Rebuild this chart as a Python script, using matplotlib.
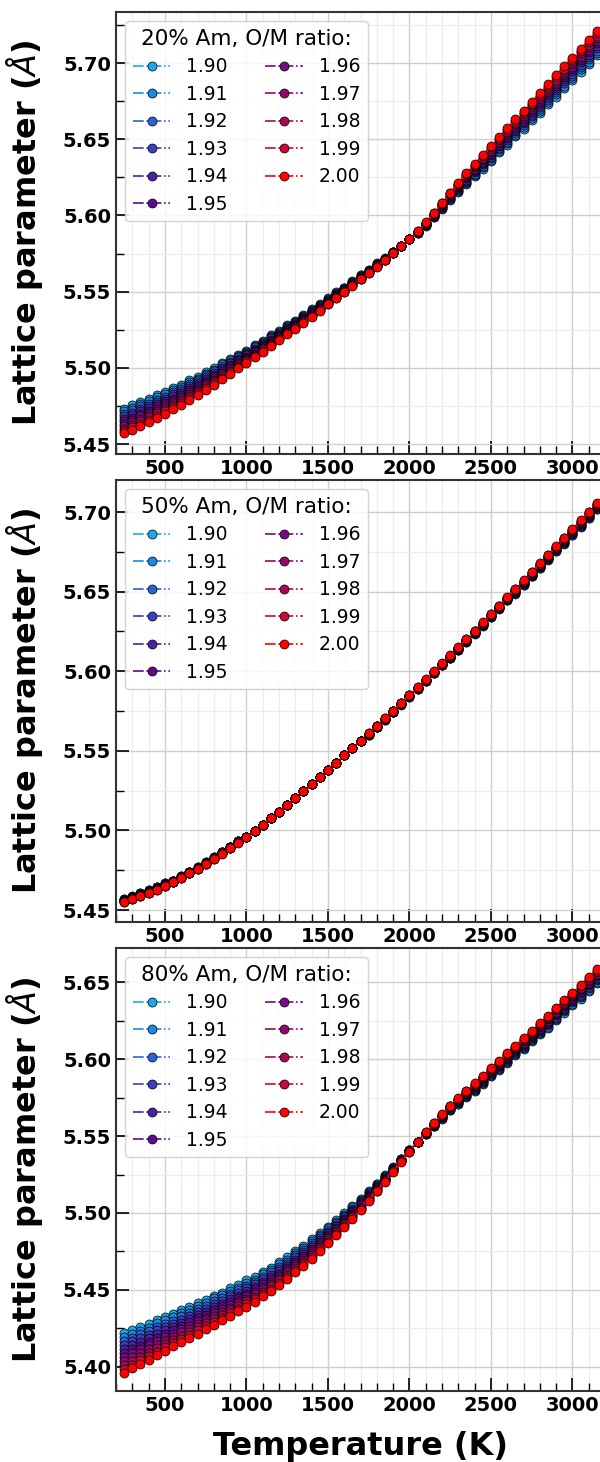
import matplotlib
matplotlib.use("Agg")
import matplotlib.pyplot as plt
from matplotlib.ticker import MultipleLocator, FormatStrFormatter

# ---------------- data ----------------
temps = [250, 300, 350, 400, 450, 500, 550, 600, 650, 700,
         750, 800, 850, 900, 950, 1000, 1050, 1100, 1150, 1200,
         1250, 1300, 1350, 1400, 1450, 1500, 1550, 1600, 1650, 1700,
         1750, 1800, 1850, 1900, 1950, 2000, 2050, 2100, 2150, 2200,
         2250, 2300, 2350, 2400, 2450, 2500, 2550, 2600, 2650, 2700,
         2750, 2800, 2850, 2900, 2950, 3000, 3050, 3100, 3150]
ratios = ["1.90", "1.91", "1.92", "1.93", "1.94", "1.95", "1.96", "1.97", "1.98", "1.99", "2.00"]
colors = ["#1aa7ec", "#1e88e5", "#2b63d4", "#3d3fbf", "#4b22a5", "#5c0a8e",
          "#760a83", "#8f0a6d", "#a80a55", "#c80a3a", "#ff0000"]

# ---- 20% Am ----
am20_190 = [5.4730, 5.4754, 5.4779, 5.4795, 5.4822, 5.4840, 5.4869, 5.4889, 5.4920, 5.4942,
            5.4975, 5.4999, 5.5034, 5.5060, 5.5087, 5.5114, 5.5150, 5.5177, 5.5214, 5.5242,
            5.5280, 5.5308, 5.5347, 5.5386, 5.5416, 5.5456, 5.5496, 5.5527, 5.5568, 5.5610,
            5.5642, 5.5685, 5.5718, 5.5762, 5.5797, 5.5844, 5.5886, 5.5934, 5.5988, 5.6044,
            5.6100, 5.6155, 5.6208, 5.6259, 5.6308, 5.6356, 5.6414, 5.6462, 5.6520, 5.6568,
            5.6626, 5.6674, 5.6732, 5.6780, 5.6838, 5.6886, 5.6944, 5.6992, 5.7050]
am20_191 = [5.4714, 5.4738, 5.4763, 5.4780, 5.4807, 5.4826, 5.4855, 5.4876, 5.4907, 5.4930,
            5.4963, 5.4988, 5.5023, 5.5050, 5.5078, 5.5106, 5.5142, 5.5170, 5.5207, 5.5236,
            5.5274, 5.5303, 5.5342, 5.5381, 5.5412, 5.5452, 5.5492, 5.5524, 5.5565, 5.5607,
            5.5640, 5.5683, 5.5717, 5.5761, 5.5797, 5.5844, 5.5887, 5.5936, 5.5991, 5.6048,
            5.6105, 5.6161, 5.6215, 5.6267, 5.6317, 5.6366, 5.6424, 5.6473, 5.6531, 5.6580,
            5.6638, 5.6687, 5.6745, 5.6794, 5.6852, 5.6901, 5.6959, 5.7008, 5.7066]
am20_192 = [5.4698, 5.4722, 5.4747, 5.4765, 5.4792, 5.4812, 5.4841, 5.4863, 5.4894, 5.4918,
            5.4951, 5.4977, 5.5012, 5.5040, 5.5069, 5.5098, 5.5134, 5.5163, 5.5200, 5.5230,
            5.5268, 5.5298, 5.5337, 5.5376, 5.5408, 5.5448, 5.5488, 5.5521, 5.5562, 5.5604,
            5.5638, 5.5681, 5.5716, 5.5760, 5.5797, 5.5844, 5.5888, 5.5938, 5.5994, 5.6052,
            5.6110, 5.6167, 5.6222, 5.6275, 5.6326, 5.6376, 5.6434, 5.6484, 5.6542, 5.6592,
            5.6650, 5.6700, 5.6758, 5.6808, 5.6866, 5.6916, 5.6974, 5.7024, 5.7082]
am20_193 = [5.4682, 5.4706, 5.4731, 5.4750, 5.4777, 5.4798, 5.4827, 5.4850, 5.4881, 5.4906,
            5.4939, 5.4966, 5.5001, 5.5030, 5.5060, 5.5090, 5.5126, 5.5156, 5.5193, 5.5224,
            5.5262, 5.5293, 5.5332, 5.5371, 5.5404, 5.5444, 5.5484, 5.5518, 5.5559, 5.5601,
            5.5636, 5.5679, 5.5715, 5.5759, 5.5797, 5.5844, 5.5889, 5.5940, 5.5997, 5.6056,
            5.6115, 5.6173, 5.6229, 5.6283, 5.6335, 5.6386, 5.6444, 5.6495, 5.6553, 5.6604,
            5.6662, 5.6713, 5.6771, 5.6822, 5.6880, 5.6931, 5.6989, 5.7040, 5.7098]
am20_194 = [5.4666, 5.4690, 5.4715, 5.4735, 5.4762, 5.4784, 5.4813, 5.4837, 5.4868, 5.4894,
            5.4927, 5.4955, 5.4990, 5.5020, 5.5051, 5.5082, 5.5118, 5.5149, 5.5186, 5.5218,
            5.5256, 5.5288, 5.5327, 5.5366, 5.5400, 5.5440, 5.5480, 5.5515, 5.5556, 5.5598,
            5.5634, 5.5677, 5.5714, 5.5758, 5.5797, 5.5844, 5.5890, 5.5942, 5.6000, 5.6060,
            5.6120, 5.6179, 5.6236, 5.6291, 5.6344, 5.6396, 5.6454, 5.6506, 5.6564, 5.6616,
            5.6674, 5.6726, 5.6784, 5.6836, 5.6894, 5.6946, 5.7004, 5.7056, 5.7114]
am20_195 = [5.4650, 5.4674, 5.4699, 5.4720, 5.4747, 5.4770, 5.4799, 5.4824, 5.4855, 5.4882,
            5.4915, 5.4944, 5.4979, 5.5010, 5.5042, 5.5074, 5.5110, 5.5142, 5.5179, 5.5212,
            5.5250, 5.5283, 5.5322, 5.5361, 5.5396, 5.5436, 5.5476, 5.5512, 5.5553, 5.5595,
            5.5632, 5.5675, 5.5713, 5.5757, 5.5797, 5.5844, 5.5891, 5.5944, 5.6003, 5.6064,
            5.6125, 5.6185, 5.6243, 5.6299, 5.6353, 5.6406, 5.6464, 5.6517, 5.6575, 5.6628,
            5.6686, 5.6739, 5.6797, 5.6850, 5.6908, 5.6961, 5.7019, 5.7072, 5.7130]
am20_196 = [5.4634, 5.4658, 5.4683, 5.4705, 5.4732, 5.4756, 5.4785, 5.4811, 5.4842, 5.4870,
            5.4903, 5.4933, 5.4968, 5.5000, 5.5033, 5.5066, 5.5102, 5.5135, 5.5172, 5.5206,
            5.5244, 5.5278, 5.5317, 5.5356, 5.5392, 5.5432, 5.5472, 5.5509, 5.5550, 5.5592,
            5.5630, 5.5673, 5.5712, 5.5756, 5.5797, 5.5844, 5.5892, 5.5946, 5.6006, 5.6068,
            5.6130, 5.6191, 5.6250, 5.6307, 5.6362, 5.6416, 5.6474, 5.6528, 5.6586, 5.6640,
            5.6698, 5.6752, 5.6810, 5.6864, 5.6922, 5.6976, 5.7034, 5.7088, 5.7146]
am20_197 = [5.4618, 5.4642, 5.4667, 5.4690, 5.4717, 5.4742, 5.4771, 5.4798, 5.4829, 5.4858,
            5.4891, 5.4922, 5.4957, 5.4990, 5.5024, 5.5058, 5.5094, 5.5128, 5.5165, 5.5200,
            5.5238, 5.5273, 5.5312, 5.5351, 5.5388, 5.5428, 5.5468, 5.5506, 5.5547, 5.5589,
            5.5628, 5.5671, 5.5711, 5.5755, 5.5797, 5.5844, 5.5893, 5.5948, 5.6009, 5.6072,
            5.6135, 5.6197, 5.6257, 5.6315, 5.6371, 5.6426, 5.6484, 5.6539, 5.6597, 5.6652,
            5.6710, 5.6765, 5.6823, 5.6878, 5.6936, 5.6991, 5.7049, 5.7104, 5.7162]
am20_198 = [5.4602, 5.4626, 5.4651, 5.4675, 5.4702, 5.4728, 5.4757, 5.4785, 5.4816, 5.4846,
            5.4879, 5.4911, 5.4946, 5.4980, 5.5015, 5.5050, 5.5086, 5.5121, 5.5158, 5.5194,
            5.5232, 5.5268, 5.5307, 5.5346, 5.5384, 5.5424, 5.5464, 5.5503, 5.5544, 5.5586,
            5.5626, 5.5669, 5.5710, 5.5754, 5.5797, 5.5844, 5.5894, 5.5950, 5.6012, 5.6076,
            5.6140, 5.6203, 5.6264, 5.6323, 5.6380, 5.6436, 5.6494, 5.6550, 5.6608, 5.6664,
            5.6722, 5.6778, 5.6836, 5.6892, 5.6950, 5.7006, 5.7064, 5.7120, 5.7178]
am20_199 = [5.4586, 5.4610, 5.4635, 5.4660, 5.4687, 5.4714, 5.4743, 5.4772, 5.4803, 5.4834,
            5.4867, 5.4900, 5.4935, 5.4970, 5.5006, 5.5042, 5.5078, 5.5114, 5.5151, 5.5188,
            5.5226, 5.5263, 5.5302, 5.5341, 5.5380, 5.5420, 5.5460, 5.5500, 5.5541, 5.5583,
            5.5624, 5.5667, 5.5709, 5.5753, 5.5797, 5.5844, 5.5895, 5.5952, 5.6015, 5.6080,
            5.6145, 5.6209, 5.6271, 5.6331, 5.6389, 5.6446, 5.6504, 5.6561, 5.6619, 5.6676,
            5.6734, 5.6791, 5.6849, 5.6906, 5.6964, 5.7021, 5.7079, 5.7136, 5.7194]
am20_200 = [5.4570, 5.4594, 5.4619, 5.4645, 5.4672, 5.4700, 5.4729, 5.4759, 5.4790, 5.4822,
            5.4855, 5.4889, 5.4924, 5.4960, 5.4997, 5.5034, 5.5070, 5.5107, 5.5144, 5.5182,
            5.5220, 5.5258, 5.5297, 5.5336, 5.5376, 5.5416, 5.5456, 5.5497, 5.5538, 5.5580,
            5.5622, 5.5665, 5.5708, 5.5752, 5.5797, 5.5844, 5.5896, 5.5954, 5.6018, 5.6084,
            5.6150, 5.6215, 5.6278, 5.6339, 5.6398, 5.6456, 5.6514, 5.6572, 5.6630, 5.6688,
            5.6746, 5.6804, 5.6862, 5.6920, 5.6978, 5.7036, 5.7094, 5.7152, 5.7210]

# ---- 50% Am ----
am50_190 = [5.4570, 5.4587, 5.4606, 5.4626, 5.4647, 5.4670, 5.4685, 5.4712, 5.4740, 5.4769,
            5.4800, 5.4832, 5.4865, 5.4899, 5.4934, 5.4960, 5.4998, 5.5037, 5.5077, 5.5118,
            5.5160, 5.5203, 5.5246, 5.5290, 5.5335, 5.5380, 5.5425, 5.5471, 5.5517, 5.5563,
            5.5600, 5.5647, 5.5695, 5.5743, 5.5791, 5.5840, 5.5889, 5.5939, 5.5989, 5.6039,
            5.6080, 5.6131, 5.6183, 5.6235, 5.6287, 5.6340, 5.6392, 5.6445, 5.6488, 5.6541,
            5.6595, 5.6648, 5.6701, 5.6755, 5.6799, 5.6853, 5.6907, 5.6961, 5.7016]
am50_191 = [5.4568, 5.4585, 5.4604, 5.4624, 5.4645, 5.4668, 5.4684, 5.4711, 5.4739, 5.4768,
            5.4799, 5.4831, 5.4864, 5.4898, 5.4933, 5.4960, 5.4998, 5.5037, 5.5077, 5.5118,
            5.5160, 5.5203, 5.5246, 5.5290, 5.5335, 5.5380, 5.5425, 5.5471, 5.5517, 5.5563,
            5.5601, 5.5648, 5.5696, 5.5744, 5.5792, 5.5841, 5.5890, 5.5940, 5.5990, 5.6040,
            5.6082, 5.6133, 5.6185, 5.6237, 5.6289, 5.6342, 5.6394, 5.6447, 5.6491, 5.6544,
            5.6598, 5.6651, 5.6704, 5.6758, 5.6803, 5.6857, 5.6911, 5.6965, 5.7020]
am50_192 = [5.4566, 5.4583, 5.4602, 5.4622, 5.4643, 5.4666, 5.4683, 5.4710, 5.4738, 5.4767,
            5.4798, 5.4830, 5.4863, 5.4897, 5.4932, 5.4960, 5.4998, 5.5037, 5.5077, 5.5118,
            5.5160, 5.5203, 5.5246, 5.5290, 5.5335, 5.5380, 5.5425, 5.5471, 5.5517, 5.5563,
            5.5602, 5.5649, 5.5697, 5.5745, 5.5793, 5.5842, 5.5891, 5.5941, 5.5991, 5.6041,
            5.6084, 5.6135, 5.6187, 5.6239, 5.6291, 5.6344, 5.6396, 5.6449, 5.6494, 5.6547,
            5.6601, 5.6654, 5.6707, 5.6761, 5.6807, 5.6861, 5.6915, 5.6969, 5.7024]
am50_193 = [5.4564, 5.4581, 5.4600, 5.4620, 5.4641, 5.4664, 5.4682, 5.4709, 5.4737, 5.4766,
            5.4797, 5.4829, 5.4862, 5.4896, 5.4931, 5.4960, 5.4998, 5.5037, 5.5077, 5.5118,
            5.5160, 5.5203, 5.5246, 5.5290, 5.5335, 5.5380, 5.5425, 5.5471, 5.5517, 5.5563,
            5.5603, 5.5650, 5.5698, 5.5746, 5.5794, 5.5843, 5.5892, 5.5942, 5.5992, 5.6042,
            5.6086, 5.6137, 5.6189, 5.6241, 5.6293, 5.6346, 5.6398, 5.6451, 5.6497, 5.6550,
            5.6604, 5.6657, 5.6710, 5.6764, 5.6811, 5.6865, 5.6919, 5.6973, 5.7028]
am50_194 = [5.4562, 5.4579, 5.4598, 5.4618, 5.4639, 5.4662, 5.4681, 5.4708, 5.4736, 5.4765,
            5.4796, 5.4828, 5.4861, 5.4895, 5.4930, 5.4960, 5.4998, 5.5037, 5.5077, 5.5118,
            5.5160, 5.5203, 5.5246, 5.5290, 5.5335, 5.5380, 5.5425, 5.5471, 5.5517, 5.5563,
            5.5604, 5.5651, 5.5699, 5.5747, 5.5795, 5.5844, 5.5893, 5.5943, 5.5993, 5.6043,
            5.6088, 5.6139, 5.6191, 5.6243, 5.6295, 5.6348, 5.6400, 5.6453, 5.6500, 5.6553,
            5.6607, 5.6660, 5.6713, 5.6767, 5.6815, 5.6869, 5.6923, 5.6977, 5.7032]
am50_195 = [5.4560, 5.4577, 5.4596, 5.4616, 5.4637, 5.4660, 5.4680, 5.4707, 5.4735, 5.4764,
            5.4795, 5.4827, 5.4860, 5.4894, 5.4929, 5.4960, 5.4998, 5.5037, 5.5077, 5.5118,
            5.5160, 5.5203, 5.5246, 5.5290, 5.5335, 5.5380, 5.5425, 5.5471, 5.5517, 5.5563,
            5.5605, 5.5652, 5.5700, 5.5748, 5.5796, 5.5845, 5.5894, 5.5944, 5.5994, 5.6044,
            5.6090, 5.6141, 5.6193, 5.6245, 5.6297, 5.6350, 5.6402, 5.6455, 5.6503, 5.6556,
            5.6610, 5.6663, 5.6716, 5.6770, 5.6819, 5.6873, 5.6927, 5.6981, 5.7036]
am50_196 = [5.4558, 5.4575, 5.4594, 5.4614, 5.4635, 5.4658, 5.4679, 5.4706, 5.4734, 5.4763,
            5.4794, 5.4826, 5.4859, 5.4893, 5.4928, 5.4960, 5.4998, 5.5037, 5.5077, 5.5118,
            5.5160, 5.5203, 5.5246, 5.5290, 5.5335, 5.5380, 5.5425, 5.5471, 5.5517, 5.5563,
            5.5606, 5.5653, 5.5701, 5.5749, 5.5797, 5.5846, 5.5895, 5.5945, 5.5995, 5.6045,
            5.6092, 5.6143, 5.6195, 5.6247, 5.6299, 5.6352, 5.6404, 5.6457, 5.6506, 5.6559,
            5.6613, 5.6666, 5.6719, 5.6773, 5.6823, 5.6877, 5.6931, 5.6985, 5.7040]
am50_197 = [5.4556, 5.4573, 5.4592, 5.4612, 5.4633, 5.4656, 5.4678, 5.4705, 5.4733, 5.4762,
            5.4793, 5.4825, 5.4858, 5.4892, 5.4927, 5.4960, 5.4998, 5.5037, 5.5077, 5.5118,
            5.5160, 5.5203, 5.5246, 5.5290, 5.5335, 5.5380, 5.5425, 5.5471, 5.5517, 5.5563,
            5.5607, 5.5654, 5.5702, 5.5750, 5.5798, 5.5847, 5.5896, 5.5946, 5.5996, 5.6046,
            5.6094, 5.6145, 5.6197, 5.6249, 5.6301, 5.6354, 5.6406, 5.6459, 5.6509, 5.6562,
            5.6616, 5.6669, 5.6722, 5.6776, 5.6827, 5.6881, 5.6935, 5.6989, 5.7044]
am50_198 = [5.4554, 5.4571, 5.4590, 5.4610, 5.4631, 5.4654, 5.4677, 5.4704, 5.4732, 5.4761,
            5.4792, 5.4824, 5.4857, 5.4891, 5.4926, 5.4960, 5.4998, 5.5037, 5.5077, 5.5118,
            5.5160, 5.5203, 5.5246, 5.5290, 5.5335, 5.5380, 5.5425, 5.5471, 5.5517, 5.5563,
            5.5608, 5.5655, 5.5703, 5.5751, 5.5799, 5.5848, 5.5897, 5.5947, 5.5997, 5.6047,
            5.6096, 5.6147, 5.6199, 5.6251, 5.6303, 5.6356, 5.6408, 5.6461, 5.6512, 5.6565,
            5.6619, 5.6672, 5.6725, 5.6779, 5.6831, 5.6885, 5.6939, 5.6993, 5.7048]
am50_199 = [5.4552, 5.4569, 5.4588, 5.4608, 5.4629, 5.4652, 5.4676, 5.4703, 5.4731, 5.4760,
            5.4791, 5.4823, 5.4856, 5.4890, 5.4925, 5.4960, 5.4998, 5.5037, 5.5077, 5.5118,
            5.5160, 5.5203, 5.5246, 5.5290, 5.5335, 5.5380, 5.5425, 5.5471, 5.5517, 5.5563,
            5.5609, 5.5656, 5.5704, 5.5752, 5.5800, 5.5849, 5.5898, 5.5948, 5.5998, 5.6048,
            5.6098, 5.6149, 5.6201, 5.6253, 5.6305, 5.6358, 5.6410, 5.6463, 5.6515, 5.6568,
            5.6622, 5.6675, 5.6728, 5.6782, 5.6835, 5.6889, 5.6943, 5.6997, 5.7052]
am50_200 = [5.4550, 5.4567, 5.4586, 5.4606, 5.4627, 5.4650, 5.4675, 5.4702, 5.4730, 5.4759,
            5.4790, 5.4822, 5.4855, 5.4889, 5.4924, 5.4960, 5.4998, 5.5037, 5.5077, 5.5118,
            5.5160, 5.5203, 5.5246, 5.5290, 5.5335, 5.5380, 5.5425, 5.5471, 5.5517, 5.5563,
            5.5610, 5.5657, 5.5705, 5.5753, 5.5801, 5.5850, 5.5899, 5.5949, 5.5999, 5.6049,
            5.6100, 5.6151, 5.6203, 5.6255, 5.6307, 5.6360, 5.6412, 5.6465, 5.6518, 5.6571,
            5.6625, 5.6678, 5.6731, 5.6785, 5.6839, 5.6893, 5.6947, 5.7001, 5.7056]

# ---- 80% Am ----
am80_190 = [5.4223, 5.4241, 5.4259, 5.4278, 5.4306, 5.4325, 5.4343, 5.4371, 5.4389, 5.4417,
            5.4435, 5.4464, 5.4483, 5.4512, 5.4532, 5.4562, 5.4584, 5.4618, 5.4644, 5.4682,
            5.4712, 5.4754, 5.4788, 5.4834, 5.4872, 5.4912, 5.4954, 5.4998, 5.5044, 5.5091,
            5.5140, 5.5191, 5.5244, 5.5298, 5.5353, 5.5408, 5.5462, 5.5514, 5.5564, 5.5612,
            5.5668, 5.5706, 5.5754, 5.5792, 5.5840, 5.5889, 5.5928, 5.5977, 5.6026, 5.6065,
            5.6114, 5.6163, 5.6202, 5.6252, 5.6302, 5.6352, 5.6392, 5.6442, 5.6492]
am80_191 = [5.4197, 5.4216, 5.4235, 5.4255, 5.4283, 5.4303, 5.4322, 5.4350, 5.4369, 5.4397,
            5.4416, 5.4445, 5.4465, 5.4494, 5.4515, 5.4545, 5.4568, 5.4602, 5.4629, 5.4667,
            5.4698, 5.4740, 5.4775, 5.4821, 5.4860, 5.4901, 5.4944, 5.4989, 5.5036, 5.5084,
            5.5134, 5.5186, 5.5240, 5.5295, 5.5351, 5.5407, 5.5462, 5.5515, 5.5566, 5.5615,
            5.5671, 5.5710, 5.5758, 5.5797, 5.5845, 5.5894, 5.5934, 5.5983, 5.6032, 5.6072,
            5.6121, 5.6170, 5.6210, 5.6260, 5.6310, 5.6360, 5.6401, 5.6451, 5.6501]
am80_192 = [5.4171, 5.4191, 5.4211, 5.4232, 5.4260, 5.4281, 5.4301, 5.4329, 5.4349, 5.4377,
            5.4397, 5.4426, 5.4447, 5.4476, 5.4498, 5.4528, 5.4552, 5.4586, 5.4614, 5.4652,
            5.4684, 5.4726, 5.4762, 5.4808, 5.4848, 5.4890, 5.4934, 5.4980, 5.5028, 5.5077,
            5.5128, 5.5181, 5.5236, 5.5292, 5.5349, 5.5406, 5.5462, 5.5516, 5.5568, 5.5618,
            5.5674, 5.5714, 5.5762, 5.5802, 5.5850, 5.5899, 5.5940, 5.5989, 5.6038, 5.6079,
            5.6128, 5.6177, 5.6218, 5.6268, 5.6318, 5.6368, 5.6410, 5.6460, 5.6510]
am80_193 = [5.4145, 5.4166, 5.4187, 5.4209, 5.4237, 5.4259, 5.4280, 5.4308, 5.4329, 5.4357,
            5.4378, 5.4407, 5.4429, 5.4458, 5.4481, 5.4511, 5.4536, 5.4570, 5.4599, 5.4637,
            5.4670, 5.4712, 5.4749, 5.4795, 5.4836, 5.4879, 5.4924, 5.4971, 5.5020, 5.5070,
            5.5122, 5.5176, 5.5232, 5.5289, 5.5347, 5.5405, 5.5462, 5.5517, 5.5570, 5.5621,
            5.5677, 5.5718, 5.5766, 5.5807, 5.5855, 5.5904, 5.5946, 5.5995, 5.6044, 5.6086,
            5.6135, 5.6184, 5.6226, 5.6276, 5.6326, 5.6376, 5.6419, 5.6469, 5.6519]
am80_194 = [5.4119, 5.4141, 5.4163, 5.4186, 5.4214, 5.4237, 5.4259, 5.4287, 5.4309, 5.4337,
            5.4359, 5.4388, 5.4411, 5.4440, 5.4464, 5.4494, 5.4520, 5.4554, 5.4584, 5.4622,
            5.4656, 5.4698, 5.4736, 5.4782, 5.4824, 5.4868, 5.4914, 5.4962, 5.5012, 5.5063,
            5.5116, 5.5171, 5.5228, 5.5286, 5.5345, 5.5404, 5.5462, 5.5518, 5.5572, 5.5624,
            5.5680, 5.5722, 5.5770, 5.5812, 5.5860, 5.5909, 5.5952, 5.6001, 5.6050, 5.6093,
            5.6142, 5.6191, 5.6234, 5.6284, 5.6334, 5.6384, 5.6428, 5.6478, 5.6528]
am80_195 = [5.4093, 5.4116, 5.4139, 5.4163, 5.4191, 5.4215, 5.4238, 5.4266, 5.4289, 5.4317,
            5.4340, 5.4369, 5.4393, 5.4422, 5.4447, 5.4477, 5.4504, 5.4538, 5.4569, 5.4607,
            5.4642, 5.4684, 5.4723, 5.4769, 5.4812, 5.4857, 5.4904, 5.4953, 5.5004, 5.5056,
            5.5110, 5.5166, 5.5224, 5.5283, 5.5343, 5.5403, 5.5462, 5.5519, 5.5574, 5.5627,
            5.5683, 5.5726, 5.5774, 5.5817, 5.5865, 5.5914, 5.5958, 5.6007, 5.6056, 5.6100,
            5.6149, 5.6198, 5.6242, 5.6292, 5.6342, 5.6392, 5.6437, 5.6487, 5.6537]
am80_196 = [5.4067, 5.4091, 5.4115, 5.4140, 5.4168, 5.4193, 5.4217, 5.4245, 5.4269, 5.4297,
            5.4321, 5.4350, 5.4375, 5.4404, 5.4430, 5.4460, 5.4488, 5.4522, 5.4554, 5.4592,
            5.4628, 5.4670, 5.4710, 5.4756, 5.4800, 5.4846, 5.4894, 5.4944, 5.4996, 5.5049,
            5.5104, 5.5161, 5.5220, 5.5280, 5.5341, 5.5402, 5.5462, 5.5520, 5.5576, 5.5630,
            5.5686, 5.5730, 5.5778, 5.5822, 5.5870, 5.5919, 5.5964, 5.6013, 5.6062, 5.6107,
            5.6156, 5.6205, 5.6250, 5.6300, 5.6350, 5.6400, 5.6446, 5.6496, 5.6546]
am80_197 = [5.4041, 5.4066, 5.4091, 5.4117, 5.4145, 5.4171, 5.4196, 5.4224, 5.4249, 5.4277,
            5.4302, 5.4331, 5.4357, 5.4386, 5.4413, 5.4443, 5.4472, 5.4506, 5.4539, 5.4577,
            5.4614, 5.4656, 5.4697, 5.4743, 5.4788, 5.4835, 5.4884, 5.4935, 5.4988, 5.5042,
            5.5098, 5.5156, 5.5216, 5.5277, 5.5339, 5.5401, 5.5462, 5.5521, 5.5578, 5.5633,
            5.5689, 5.5734, 5.5782, 5.5827, 5.5875, 5.5924, 5.5970, 5.6019, 5.6068, 5.6114,
            5.6163, 5.6212, 5.6258, 5.6308, 5.6358, 5.6408, 5.6455, 5.6505, 5.6555]
am80_198 = [5.4015, 5.4041, 5.4067, 5.4094, 5.4122, 5.4149, 5.4175, 5.4203, 5.4229, 5.4257,
            5.4283, 5.4312, 5.4339, 5.4368, 5.4396, 5.4426, 5.4456, 5.4490, 5.4524, 5.4562,
            5.4600, 5.4642, 5.4684, 5.4730, 5.4776, 5.4824, 5.4874, 5.4926, 5.4980, 5.5035,
            5.5092, 5.5151, 5.5212, 5.5274, 5.5337, 5.5400, 5.5462, 5.5522, 5.5580, 5.5636,
            5.5692, 5.5738, 5.5786, 5.5832, 5.5880, 5.5929, 5.5976, 5.6025, 5.6074, 5.6121,
            5.6170, 5.6219, 5.6266, 5.6316, 5.6366, 5.6416, 5.6464, 5.6514, 5.6564]
am80_199 = [5.3989, 5.4016, 5.4043, 5.4071, 5.4099, 5.4127, 5.4154, 5.4182, 5.4209, 5.4237,
            5.4264, 5.4293, 5.4321, 5.4350, 5.4379, 5.4409, 5.4440, 5.4474, 5.4509, 5.4547,
            5.4586, 5.4628, 5.4671, 5.4717, 5.4764, 5.4813, 5.4864, 5.4917, 5.4972, 5.5028,
            5.5086, 5.5146, 5.5208, 5.5271, 5.5335, 5.5399, 5.5462, 5.5523, 5.5582, 5.5639,
            5.5695, 5.5742, 5.5790, 5.5837, 5.5885, 5.5934, 5.5982, 5.6031, 5.6080, 5.6128,
            5.6177, 5.6226, 5.6274, 5.6324, 5.6374, 5.6424, 5.6473, 5.6523, 5.6573]
am80_200 = [5.3963, 5.3991, 5.4019, 5.4048, 5.4076, 5.4105, 5.4133, 5.4161, 5.4189, 5.4217,
            5.4245, 5.4274, 5.4303, 5.4332, 5.4362, 5.4392, 5.4424, 5.4458, 5.4494, 5.4532,
            5.4572, 5.4614, 5.4658, 5.4704, 5.4752, 5.4802, 5.4854, 5.4908, 5.4964, 5.5021,
            5.5080, 5.5141, 5.5204, 5.5268, 5.5333, 5.5398, 5.5462, 5.5524, 5.5584, 5.5642,
            5.5698, 5.5746, 5.5794, 5.5842, 5.5890, 5.5939, 5.5988, 5.6037, 5.6086, 5.6135,
            5.6184, 5.6233, 5.6282, 5.6332, 5.6382, 5.6432, 5.6482, 5.6532, 5.6582]

panels = [
    ("20% Am, O/M ratio:", [am20_190, am20_191, am20_192, am20_193, am20_194, am20_195,
                            am20_196, am20_197, am20_198, am20_199, am20_200], (5.4435, 5.7335)),
    ("50% Am, O/M ratio:", [am50_190, am50_191, am50_192, am50_193, am50_194, am50_195,
                            am50_196, am50_197, am50_198, am50_199, am50_200], (5.4425, 5.7201)),
    ("80% Am, O/M ratio:", [am80_190, am80_191, am80_192, am80_193, am80_194, am80_195,
                            am80_196, am80_197, am80_198, am80_199, am80_200], (5.3844, 5.6721)),
]
for pi, (_, series, _) in enumerate(panels):
    for si, s in enumerate(series):
        assert len(s) == len(temps), f"panel {pi} series {si}: {len(s)}"

# ---------------- figure ----------------
W, H = 600, 1462
fig = plt.figure(figsize=(W / 100, H / 100), dpi=100)
left_px, right_px = 116, 605
boxes = [(12, 454), (480, 922), (948, 1391)]

for i, ((title, series, ylim), (top, bot)) in enumerate(zip(panels, boxes)):
    ax = fig.add_axes([left_px / W, (H - bot) / H, (right_px - left_px) / W, (bot - top) / H])
    for vals, lab, col in zip(series, ratios, colors):
        ax.plot(temps, vals, linestyle="-.", linewidth=1.2, color=col, marker="o",
                markersize=6.5, markerfacecolor=col, markeredgecolor="k",
                markeredgewidth=0.5, label=lab)
    ax.set_xlim(200, 3200)
    ax.set_ylim(*ylim)
    ax.xaxis.set_major_locator(MultipleLocator(500))
    ax.xaxis.set_minor_locator(MultipleLocator(100))
    ax.yaxis.set_major_locator(MultipleLocator(0.05))
    ax.yaxis.set_minor_locator(MultipleLocator(0.025))
    ax.yaxis.set_major_formatter(FormatStrFormatter("%.2f"))
    ax.grid(which="major", color="#cfcfcf", linewidth=1.0)
    ax.grid(which="minor", color="#ececec", linewidth=0.8)
    ax.set_axisbelow(True)
    ax.tick_params(which="both", direction="in", top=False, right=False, labelsize=14)
    ax.tick_params(which="major", length=9.5, width=1.2)
    ax.tick_params(which="minor", length=6, width=1.0)
    for lbl in ax.get_xticklabels() + ax.get_yticklabels():
        lbl.set_fontweight("bold")
    for sp in ax.spines.values():
        sp.set_color("#333333")
        sp.set_linewidth(1.5)
    ax.set_ylabel(r"Lattice parameter ($\AA$)", fontsize=23, fontweight="bold")
    ax.yaxis.set_label_coords(-0.145, 0.5)
    ax.legend(loc="upper left", ncol=2, title=title, fontsize=13.5, title_fontsize=15.5,
              labelspacing=0.45, handlelength=2.0, handletextpad=0.85, columnspacing=2.0,
              borderaxespad=0.5, framealpha=0.85, edgecolor="#cccccc")
    if i == 2:
        ax.set_xlabel("Temperature (K)", fontsize=23, fontweight="bold")
        ax.xaxis.set_label_coords(0.5, -0.09)

fig.savefig("out.png", dpi=100)
